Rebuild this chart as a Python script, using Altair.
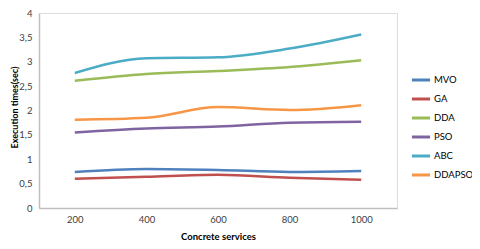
import altair as alt
import pandas as pd

services = ["200", "400", "600", "800", "1000"]
series_names = ["MVO", "GA", "DDA", "PSO", "ABC", "DDAPSO"]
mvo = [0.74, 0.80, 0.78, 0.74, 0.76]
ga = [0.60, 0.64, 0.68, 0.62, 0.58]
dda = [2.61, 2.75, 2.81, 2.89, 3.03]
pso = [1.55, 1.63, 1.67, 1.75, 1.77]
abc = [2.77, 3.07, 3.09, 3.27, 3.56]
ddapso = [1.81, 1.85, 2.07, 2.01, 2.11]
colors = ["#4F81BD", "#C0504D", "#9BBB59", "#8064A2", "#4BACC6", "#F79646"]

rows = []
for name, vals in zip(series_names, [mvo, ga, dda, pso, abc, ddapso]):
    for s, v in zip(services, vals):
        rows.append({"service": s, "time": v, "series": name})
df = pd.DataFrame(rows)

font = "Lato"

chart = alt.Chart(df).mark_line(strokeWidth=2.5, interpolate="monotone").encode(
    x=alt.X("service:O", sort=services, scale=alt.Scale(paddingInner=0, paddingOuter=0.5),
            axis=alt.Axis(title="Concrete services", labelAngle=0, ticks=False,
                          domainColor="#BFBFBF", domainWidth=1.5, labelPadding=6,
                          titlePadding=8, labelColor="#404040", titleColor="#000000",
                          labelFontSize=9.5, titleFontSize=9.5, titleFontWeight="bold")),
    y=alt.Y("time:Q", scale=alt.Scale(domain=[0, 4]),
            axis=alt.Axis(title="Execution times(sec)", values=[0, 0.5, 1, 1.5, 2, 2.5, 3, 3.5, 4],
                          labelExpr="replace(format(datum.value, '.1~f'), '.', ',')",
                          grid=False, ticks=False, domainColor="#BFBFBF", domainWidth=1.5,
                          labelPadding=7, titleX=-25, titleY=94, titleBaseline="middle",
                          labelColor="#404040", titleColor="#000000",
                          labelFontSize=9.5, titleFontSize=9, titleFontWeight="bold")),
    color=alt.Color("series:N", sort=series_names,
                    scale=alt.Scale(domain=series_names, range=colors),
                    legend=alt.Legend(title=None, orient="none", legendX=371, legendY=56,
                                      symbolType="stroke", symbolStrokeWidth=3, symbolSize=330,
                                      labelFontSize=9.5, labelColor="#000000", rowPadding=2,
                                      labelOffset=2, labelFontWeight="normal")),
).properties(
    width=358, height=195,
    autosize=alt.AutoSizeParams(type="none"),
    padding={"left": 31, "top": 5, "right": 75, "bottom": 33},
).configure_view(stroke=None).configure(font=font)

chart.save("out.html", embed_options={"renderer": "svg", "actions": False})
